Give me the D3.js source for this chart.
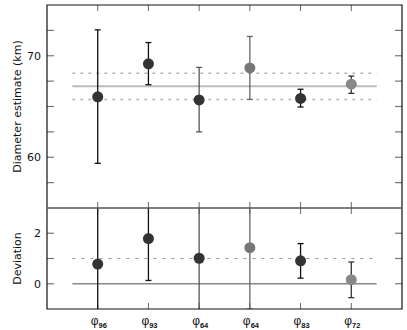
<!DOCTYPE html>
<html>
<head>
<meta charset="utf-8">
<script src="https://cdn.jsdelivr.net/npm/d3@7"></script>
<style>
  body { margin: 0; background: #fff; }
  text { font-family: "DejaVu Sans", sans-serif; fill: #111; }
</style>
</head>
<body>
<div id="chart"></div>
<script>
// phase labels (subscripts)
const labels = ["96", "93", "64", "64", "83", "72"];

// top panel: diameter estimate (km)
const diam   = [65.95, 69.2, 65.65, 68.8, 65.8, 67.2];
const diamLo = [59.4, 67.15, 62.5, 65.7, 64.95, 66.3];
const diamHi = [72.55, 71.3, 68.85, 71.9, 66.7, 68.0];
const diamMean = 67.0;
const diamBand = [65.7, 68.27];

// bottom panel: deviation
const dev   = [0.78, 1.79, 1.01, 1.43, 0.91, 0.16];
const devLo = [-1.5, 0.13, -1.5, -1.0, 0.22, -0.55];
const devHi = [3.5, 3.5, 3.5, 3.5, 1.59, 0.86];
const devLevels = [0, 1];

const dotFill = ["#333", "#333", "#333", "#777", "#333", "#888"];
const barCol  = ["#111", "#111", "#555", "#666", "#111", "#333"];

const W = 407, H = 330;
let margin = {left: 47, right: 5, top: 5};
let topH = 203, botH = 101;

let svg = d3.select("#chart").append("svg")
    .attr("width", W).attr("height", H);

let x = d3.scaleLinear().domain([0, 7]).range([margin.left, W - margin.right]);
let yTop = d3.scaleLinear().domain([55, 75]).range([margin.top + topH, margin.top]);
let yBot = d3.scaleLinear().domain([-1, 3]).range([margin.top + topH + botH, margin.top + topH]);

let idx = d3.range(labels.length);

function panel(y, majors, minors, ylabel, clipId) {
  let y0 = y.range()[0], y1 = y.range()[1];

  svg.append("clipPath").attr("id", clipId)
    .append("rect")
    .attr("x", x(0)).attr("y", y1)
    .attr("width", x(7) - x(0)).attr("height", y0 - y1);

  // y ticks, inward on both sides
  let allTicks = majors.concat(minors);
  [x(0), x(7)].forEach((px, side) => {
    svg.append("g").selectAll("line").data(allTicks).join("line")
      .attr("x1", px).attr("x2", side ? px - 7 : px + 7)
      .attr("y1", d => y(d)).attr("y2", d => y(d))
      .attr("stroke", "#777").attr("stroke-width", 1.2);
  });
  svg.append("g").selectAll("text").data(majors).join("text")
    .attr("x", x(0) - 6).attr("y", d => y(d) + 4)
    .attr("text-anchor", "end").attr("font-size", 11)
    .text(d => d);

  // x ticks on top and bottom edge
  svg.append("g").selectAll("line").data(idx).join("line")
    .attr("x1", i => x(i + 1)).attr("x2", i => x(i + 1))
    .attr("y1", y0).attr("y2", y0 - 6)
    .attr("stroke", "#666");
  svg.append("g").selectAll("line").data(idx).join("line")
    .attr("x1", i => x(i + 1)).attr("x2", i => x(i + 1))
    .attr("y1", y1).attr("y2", y1 + 6)
    .attr("stroke", "#666");

  svg.append("text")
    .attr("transform", "translate(" + (x(0) - 26) + "," + ((y0 + y1) / 2) + ") rotate(-90)")
    .attr("text-anchor", "middle").attr("font-size", 11)
    .text(ylabel);

  return svg.append("g").attr("clip-path", "url(#" + clipId + ")");
}

// ---------- top panel ----------
let gTop = panel(yTop, [60, 70], [57.5, 62.5, 65, 67.5, 72.5],
  "Diameter estimate  (km)", "clipTop");

gTop.selectAll("line.band").data(diamBand).join("line")
  .attr("x1", x(0.5)).attr("x2", x(6.5))
  .attr("y1", d => yTop(d)).attr("y2", d => yTop(d))
  .attr("stroke", "#b5b5b5").attr("stroke-width", 1.5)
  .attr("stroke-dasharray", "3,5");
gTop.append("line")
  .attr("x1", x(0.5)).attr("x2", x(6.5))
  .attr("y1", yTop(diamMean)).attr("y2", yTop(diamMean))
  .attr("stroke", "#bbb").attr("stroke-width", 2);

// ---------- bottom panel ----------
let gBot = panel(yBot, [0, 2], [1], "Deviation", "clipBot");

gBot.append("line")
  .attr("x1", x(0.5)).attr("x2", x(6.5))
  .attr("y1", yBot(devLevels[1])).attr("y2", yBot(devLevels[1]))
  .attr("stroke", "#999").attr("stroke-width", 1)
  .attr("stroke-dasharray", "3,6");
gBot.append("line")
  .attr("x1", x(0.5)).attr("x2", x(6.5))
  .attr("y1", yBot(devLevels[0])).attr("y2", yBot(devLevels[0]))
  .attr("stroke", "#888").attr("stroke-width", 1.6);

function errorBars(g, y, val, lo, hi) {
  let dom = y.domain();
  let inside = v => v >= dom[0] - 0.001 && v <= dom[1] + 0.001;
  g.append("g").selectAll("line").data(idx).join("line")
    .attr("x1", i => x(i + 1)).attr("x2", i => x(i + 1))
    .attr("y1", i => y(lo[i])).attr("y2", i => y(hi[i]))
    .attr("stroke", i => barCol[i]).attr("stroke-width", 1.3);
  let caps = [];
  idx.forEach(i => {
    if (inside(lo[i])) caps.push([i, lo[i]]);
    if (inside(hi[i])) caps.push([i, hi[i]]);
  });
  g.append("g").selectAll("line").data(caps).join("line")
    .attr("x1", d => x(d[0] + 1) - 3).attr("x2", d => x(d[0] + 1) + 3)
    .attr("y1", d => y(d[1])).attr("y2", d => y(d[1]))
    .attr("stroke", d => barCol[d[0]]).attr("stroke-width", 1.3);
  g.append("g").selectAll("circle").data(idx).join("circle")
    .attr("cx", i => x(i + 1)).attr("cy", i => y(val[i]))
    .attr("r", 5.5)
    .attr("fill", i => dotFill[i]);
}
errorBars(gTop, yTop, diam, diamLo, diamHi);
errorBars(gBot, yBot, dev, devLo, devHi);

// frame
let yT = yTop.range()[1], yM = yTop.range()[0], yB = yBot.range()[0];
svg.append("path")
  .attr("d", "M" + x(0) + "," + yT + "H" + x(7) + "V" + yB + "H" + x(0) + "Z")
  .attr("fill", "none").attr("stroke", "#111").attr("stroke-width", 1.2);
svg.append("line")
  .attr("x1", x(0)).attr("x2", x(7)).attr("y1", yM).attr("y2", yM)
  .attr("stroke", "#555").attr("stroke-width", 1.6);

// phase labels
let lab = svg.append("g").selectAll("text").data(idx).join("text")
  .attr("x", i => x(i + 1) - 7).attr("y", yB + 16)
  .style("font-family", "'Liberation Sans', sans-serif")
  .style("fill", "#111").attr("font-size", 12);
lab.append("tspan").text("\u03c6");
lab.append("tspan").attr("dy", 2.5).attr("font-size", 7.5)
  .attr("font-weight", "bold")
  .text(i => labels[i]);
</script>
</body>
</html>
